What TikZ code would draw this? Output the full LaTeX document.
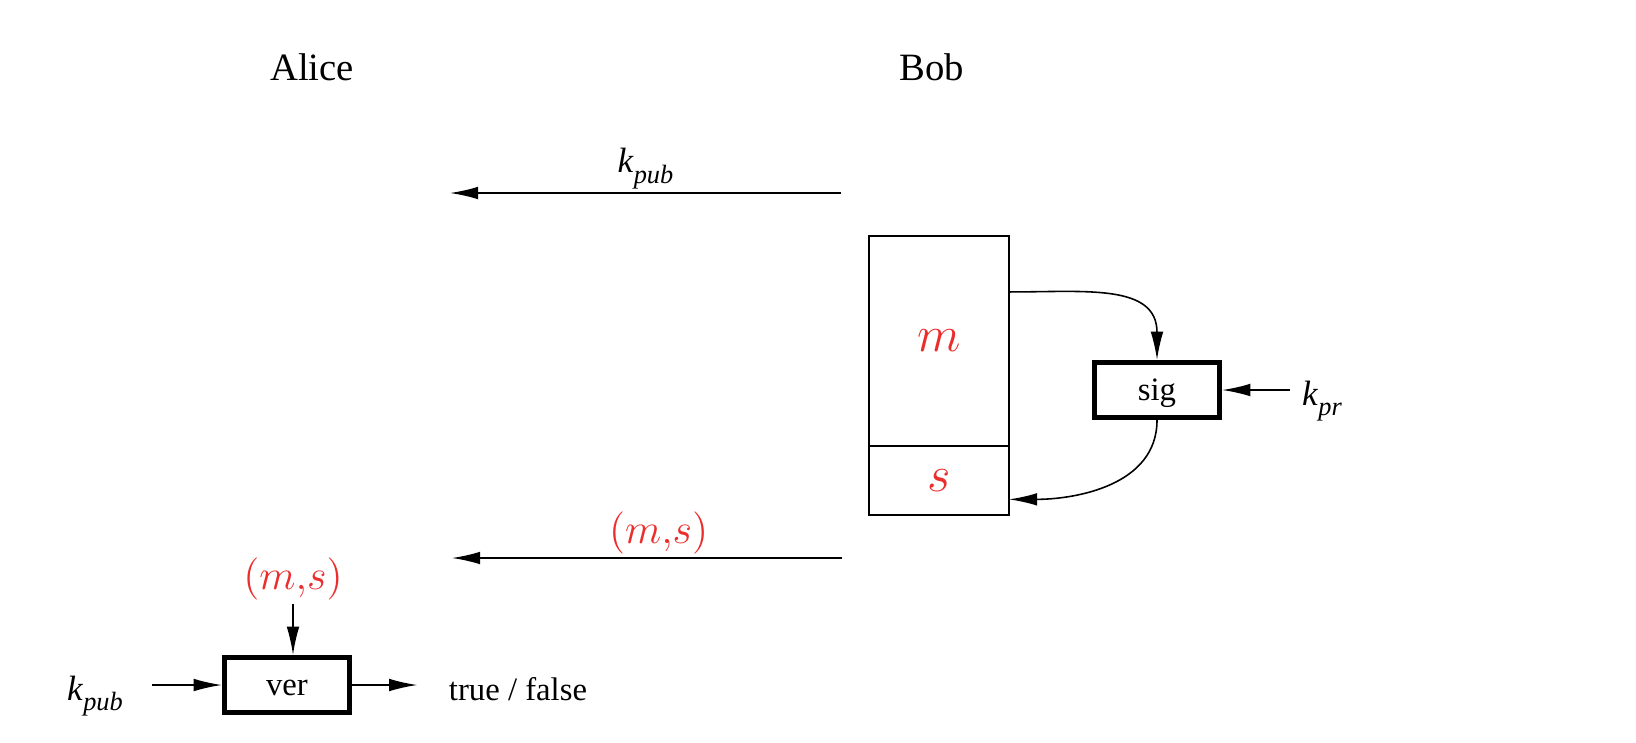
\documentclass[tikz,border=0pt]{standalone}
\usepackage{fontspec}
\setmainfont{Liberation Serif}
\usetikzlibrary{arrows.meta,positioning,calc}
\definecolor{msgred}{RGB}{235,45,45}
\newcommand{\keyk}[1]{\textit{k}\raisebox{-3pt}{\fontsize{7.5}{8}\selectfont\textit{#1}}}
\tikzset{
party/.style  = {font=\fontsize{11}{13}\selectfont},
func/.style   = {draw, line width=1.5pt, rectangle, minimum width=1.25cm, minimum height=0.55cm, text height=7pt, text depth=1pt, font=\fontsize{9.3}{11}\selectfont},
msgpart/.style = {draw, line width=0.55pt, rectangle, outer sep=0pt, minimum width=1.4cm, text=msgred, font=\fontsize{14}{16}\selectfont},
keylbl/.style = {font=\fontsize{10}{12}\selectfont},
redlbl/.style = {text=msgred, font=\fontsize{11.5}{13}\selectfont, inner sep=1pt},
tmp/.style    = {coordinate}
}

\begin{document}
\begin{tikzpicture}[x=0.01cm, y=-0.01cm, >={Latex[length=8pt,width=3.6pt]}, line width=0.45pt]
  \useasboundingbox (0,0) rectangle (1636,742);
  \node [party]                          (alice)  at (312,67)  {Alice};
  \node [party]                          (bob)    at (932,67)  {Bob};
  \node [tmp]                            (keyb)   at (841,193) {};
  \node [tmp]                            (keya)   at (450,193) {};
  \node [msgpart, minimum height=2.1cm]  (mpart)  at (939,341) {$m$};
  \node [msgpart, minimum height=0.69cm, below=0pt of mpart] (spart) {$s$};
  \node [func]                           (sig)    at (1157,390) {sig};
  \node [keylbl]                         (kpr)    at (1322,401) {\keyk{pr}};
  \node [tmp]                            (sendb)  at (842,558) {};
  \node [tmp]                            (senda)  at (452,558) {};
  \node [redlbl]                         (msv)    at (293,579) {$(m{,}s)$};
  \node [func]                           (ver)    at (287,685) {ver};
  \node [keylbl, inner xsep=8pt]         (kpubl)  at (95,696)  {\keyk{pub}};
  \node [font=\fontsize{9.3}{11}\selectfont, inner xsep=8.8pt] (result) at (518,689) {true / false};

  \draw [->] (keyb) -- node [above, inner sep=1pt, keylbl] {\keyk{pub}} (keya);
  \draw [->] (mpart.35) to [out=0, in=90, looseness=1.2] (sig.north);
  \draw [->] (sig.south) to [out=-90, in=0] (spart.-15);
  \draw [->] (sig.east -| kpr.west) -- (sig.east);
  \draw [->] (sendb) -- node [pos=0.47, above, inner sep=0pt, redlbl] {$(m{,}s)$} (senda);
  \draw [->] (msv.south) -- (msv.south |- ver.north);
  \draw [->] (kpubl.east |- ver.west) -- (ver.west);
  \draw [->] (ver.east) -- (ver.east -| result.west);
\end{tikzpicture}
\end{document}
